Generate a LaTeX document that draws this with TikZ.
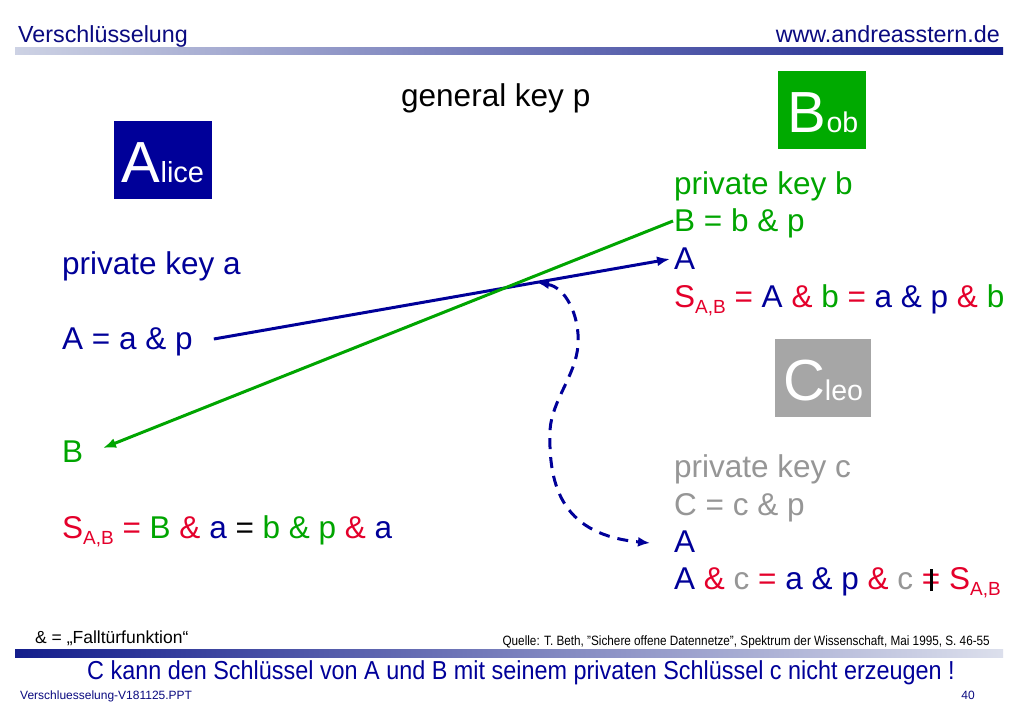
\documentclass[tikz,border=0pt]{standalone}
\usepackage{fontspec}
\setmainfont{Liberation Sans}
\usetikzlibrary{arrows.meta}
\definecolor{cBlue}{RGB}{0,0,153}
\definecolor{cNavy}{RGB}{10,10,128}
\definecolor{cGreen}{RGB}{0,165,0}
\definecolor{cBoxGreen}{RGB}{0,170,0}
\definecolor{cRed}{RGB}{228,0,43}
\definecolor{cGray}{RGB}{150,150,150}
\definecolor{cBoxGray}{RGB}{166,166,166}
\definecolor{cBarLight}{RGB}{205,210,228}
\definecolor{cBarDark}{RGB}{20,30,140}
\newcommand\Xb[1]{\textcolor{cBlue}{#1}}
\newcommand\Xg[1]{\textcolor{cGreen}{#1}}
\newcommand\Xr[1]{\textcolor{cRed}{#1}}
\newcommand\Xc[1]{\textcolor{cGray}{#1}}
\newcommand\Xsab{\Xr{S\raisebox{-6pt}{\fontsize{19}{19}\selectfont A,B}}}
\newcommand\Xneq{\ooalign{\Xr{=}\cr\hidewidth\rule[-2pt]{3pt}{22pt}\hidewidth\cr}}
\tikzset{
  body/.style={anchor=base west, inner sep=0pt, font=\fontsize{31.5}{37}\selectfont},
  namebox/.style={inner sep=0pt, draw=none},
  boxlab/.style={anchor=base, inner sep=0pt, text=white},
  conn/.style={line width=3pt, -{Latex[length=13pt,width=10pt]}},
  dconn/.style={line width=3pt, cBlue, dash pattern=on 11pt off 8pt,
     {Latex[length=11pt,width=9pt]}-{Latex[length=12pt,width=10pt]}},
}
\begin{document}
\begin{tikzpicture}[x=1pt,y=-1pt]
\fill[white] (0,0) rectangle (1024,709);
\useasboundingbox (0,0) rectangle (1024,709);
% header
\node[anchor=base west, inner sep=0pt, text=cNavy, font=\fontsize{23.3}{25}\selectfont] (title) at (18,43) {Verschlüsselung};
\node[anchor=base east, inner sep=0pt, text=cNavy, font=\fontsize{23.3}{25}\selectfont] (url) at (1000,43) {www.andreasstern.de};
\shade[left color=cBarLight, right color=cBarDark] (15,48) rectangle (1003,55);
% general key
\node[body] (gen) at (401,106) {general key p};
% boxes
\node[namebox, fill=cBlue, minimum width=98pt, minimum height=78pt] (alice) at (163,160) {};
\node[boxlab] (alicet) at (163,182) {\fontsize{58}{58}\selectfont A\fontsize{29}{29}\selectfont lice};
\node[namebox, fill=cBoxGreen, minimum width=88pt, minimum height=78pt] (bob) at (822,110) {};
\node[boxlab] (bobt) at (823,132) {\fontsize{58}{58}\selectfont B\fontsize{28.5}{28.5}\selectfont ob};
\node[namebox, fill=cBoxGray, minimum width=96pt, minimum height=78pt] (cleo) at (823,378) {};
\node[boxlab] (cleot) at (823,400) {\fontsize{58}{58}\selectfont C\fontsize{28.5}{28.5}\selectfont leo};
% Alice text
\node[body, text=cBlue] (Apriv) at (62,274) {private key a};
\node[body, text=cBlue] (Aeq) at (62,349) {A = a \& p};
\node[body, text=cGreen] (AB) at (62,462) {B};
\node[body] (Asab) at (62,538) {\Xsab\ \Xr{=} \Xg{B} \Xr{\&} \Xb{a} = \Xg{b \& p} \Xr{\&} \Xb{a}};
% Bob text
\node[body, text=cGreen] (Bpriv) at (674,194) {private key b};
\node[body, text=cGreen] (Beq) at (674,231) {B = b \& p};
\node[body, text=cBlue] (BA) at (674,269) {A};
\node[body] (Bsab) at (674,307) {\Xsab\ \Xr{=} \Xb{A} \Xr{\&} \Xg{b} \Xr{=} \Xb{a \& p} \Xr{\&} \Xg{b}};
% Cleo text
\node[body, text=cGray] (Cpriv) at (674,477) {private key c};
\node[body, text=cGray] (Ceq) at (674,515) {C = c \& p};
\node[body, text=cBlue] (CA) at (674,552) {A};
\node[body] (Cline) at (674,589) {\Xb{A} \Xr{\&} \Xc{c} \Xr{=} \Xb{a \& p} \Xr{\&} \Xc{c} \Xneq\ \Xsab};
% connectors
\draw[conn, cBlue] ([shift={(21,-10)}]Aeq.base east) -- ([shift={(-4,-10)}]BA.base west);
\draw[conn, cGreen] ([shift={(-1,-10)}]Beq.base west) -- ([shift={(41,-14)}]AB.base west);
\coordinate (dstart) at (538,283);
\draw[dconn] (dstart) .. controls (565,287) and (580,315) .. (578,345)
  .. controls (576,375) and (552,400) .. (550,430)
  .. controls (548,490) and (565,535) .. ([shift={(-24,-9)}]CA.base west);
% footer
\node[anchor=base west, inner sep=0pt, font=\fontsize{17.5}{19}\selectfont] (trap) at (35,643) {\& = „Falltürfunktion“};
\node[anchor=base east, inner sep=0pt, font=\fontsize{13.5}{15}\selectfont] (quelle) at (990,645) {\scalebox{0.87}[1]{Quelle: T. Beth, "Sichere offene Datennetze", Spektrum der Wissenschaft, Mai 1995, S. 46-55}};
\shade[left color=cBarDark, right color=cBarLight!70!white] (15,649) rectangle (1003,657);
\node[anchor=base, inner sep=0pt, text=cBlue, font=\fontsize{26}{28}\selectfont] (concl) at (521,679) {\scalebox{0.9}[1]{C kann den Schlüssel von A und B mit seinem privaten Schlüssel c nicht erzeugen !}};
\node[anchor=base west, inner sep=0pt, text=cNavy, font=\fontsize{12}{13}\selectfont] (file) at (20,699) {Verschluesselung-V181125.PPT};
\node[anchor=base east, inner sep=0pt, text=cNavy, font=\fontsize{12}{13}\selectfont] (page) at (975,699) {40};
\end{tikzpicture}
\end{document}
